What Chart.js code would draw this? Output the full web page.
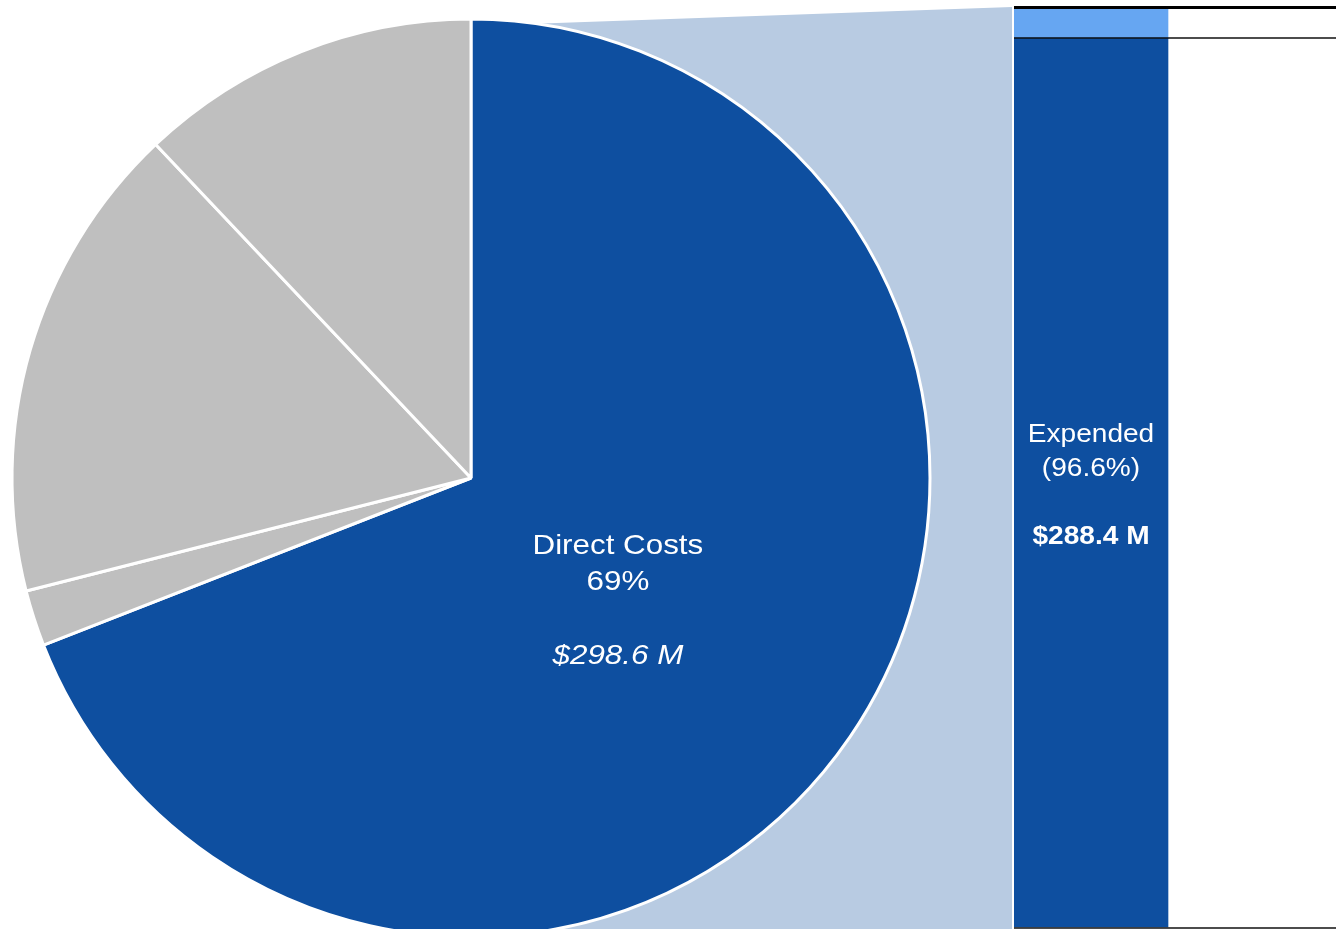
<!DOCTYPE html>
<html>
<head>
<meta charset="utf-8">
<script src="https://cdn.jsdelivr.net/npm/chart.js@4/dist/chart.umd.min.js"></script>
<style>
  body { margin: 0; background: #ffffff; }
  #wrap { position: relative; width: 1336px; height: 929px; overflow: hidden; }
  #pie { position: absolute; left: 0; top: 0; }
  #bar { position: absolute; left: 1014px; top: 0; }
</style>
</head>
<body>
<div id="wrap">
  <canvas id="pie" width="1336" height="929"></canvas>
  <canvas id="bar" width="322" height="929"></canvas>
</div>
<script>
// pie: cost breakdown ($ M), clockwise from 12 o'clock
var pieLabels = ['Direct Costs', 'Other Costs', 'Indirect Costs', 'Fringe Benefits'];
var pieValues = [298.6, 8.5, 73.1, 52.1];
var pieColors = ['#0e4fa0', '#bfbfbf', '#bfbfbf', '#bfbfbf'];

// bar: Direct Costs split ($ M)
var barLabels = ['Direct Costs', ''];
var expended = [288.4, null];
var unexpended = [10.2, null];
var barTicks = [0, 288.4, 298.6];

var pieText = ['Direct Costs', '69%', '', '$298.6 M'];
var barText = ['Expended', '(96.6%)', '', '$288.4 M'];

var barLeft = 1014;

function drawLines(ctx, lines, x, y, lineH, fonts, stretch) {
    var top = y - lineH * (lines.length - 1) / 2;
    ctx.save();
    ctx.fillStyle = '#ffffff';
    ctx.textAlign = 'center';
    ctx.textBaseline = 'middle';
    for (var i = 0; i < lines.length; i++) {
        if (!lines[i]) continue;
        ctx.save();
        ctx.translate(x, top + i * lineH);
        ctx.scale(stretch, 1);
        ctx.font = fonts[i];
        ctx.fillText(lines[i], 0, 0);
        ctx.restore();
    }
    ctx.restore();
}

var barChart = new Chart(document.getElementById('bar').getContext('2d'), {
    type: 'bar',
    data: {
        labels: barLabels,
        datasets: [{
            label: 'Expended',
            data: expended,
            backgroundColor: '#0e4fa0',
            barPercentage: 1,
            categoryPercentage: 1
        }, {
            label: 'Unexpended',
            data: unexpended,
            backgroundColor: '#66a6f2',
            barPercentage: 1,
            categoryPercentage: 1
        }]
    },
    options: {
        responsive: false,
        animation: false,
        layout: { padding: { top: 7, bottom: 1, left: 0, right: 0 } },
        plugins: { legend: { display: false }, tooltip: { enabled: false } },
        scales: {
            x: { display: false, stacked: true },
            y: {
                position: 'right',
                stacked: true,
                min: 0,
                max: 298.6,
                afterBuildTicks: function (scale) {
                    scale.ticks = barTicks.map(function (v) { return { value: v }; });
                },
                ticks: { display: false },
                border: { display: false },
                grid: {
                    z: 1,
                    drawTicks: true,
                    tickLength: 14,
                    color: function (c) { return c.tick && c.tick.value === 298.6 ? '#000000' : 'rgba(0,0,0,0.7)'; },
                    lineWidth: function (c) { return c.tick && c.tick.value === 298.6 ? 3 : 2; }
                }
            }
        }
    },
    plugins: [{
        id: 'barText',
        afterDatasetsDraw: function (chart) {
            var el = chart.getDatasetMeta(0).data[0];
            var cy = (el.y + el.base) / 2 + 3;
            var f = '26px "Liberation Sans", Arial, sans-serif';
            drawLines(chart.ctx, barText, el.x, cy, 34, [f, f, f, 'bold ' + f], 1.08);
        }
    }]
});

var pieChart = new Chart(document.getElementById('pie').getContext('2d'), {
    type: 'pie',
    data: {
        labels: pieLabels,
        datasets: [{
            data: pieValues,
            backgroundColor: pieColors,
            borderColor: '#ffffff',
            borderWidth: 3,
            radius: 459,
            clip: false
        }]
    },
    options: {
        responsive: false,
        animation: false,
        layout: { padding: { left: 0, right: 394, top: 27, bottom: 0 } },
        plugins: { legend: { display: false }, tooltip: { enabled: false } }
    },
    plugins: [{
        id: 'link',
        beforeDatasetsDraw: function (chart) {
            var arc = chart.getDatasetMeta(0).data[0];
            var bar = barChart.getDatasetMeta(0).data[0];
            var bx = barLeft + bar.x - bar.width / 2 - 2;
            var yTop = barChart.scales.y.getPixelForValue(barChart.scales.y.max);
            var ctx = chart.ctx;
            ctx.save();
            ctx.fillStyle = '#b8cbe2';
            ctx.beginPath();
            ctx.moveTo(arc.x, arc.y - arc.outerRadius + 7);
            ctx.lineTo(bx, yTop);
            ctx.lineTo(bx, chart.height);
            ctx.lineTo(arc.x, chart.height);
            ctx.closePath();
            ctx.fill();
            ctx.restore();
        },
        afterDatasetsDraw: function (chart) {
            var arc = chart.getDatasetMeta(0).data[0];
            var r = arc.outerRadius;
            var f = '28px "Liberation Sans", Arial, sans-serif';
            drawLines(chart.ctx, pieText, arc.x + r * 0.32, arc.y + r * 0.268, 36.5, [f, f, f, 'italic ' + f], 1.12);
        }
    }]
});
</script>
</body>
</html>
